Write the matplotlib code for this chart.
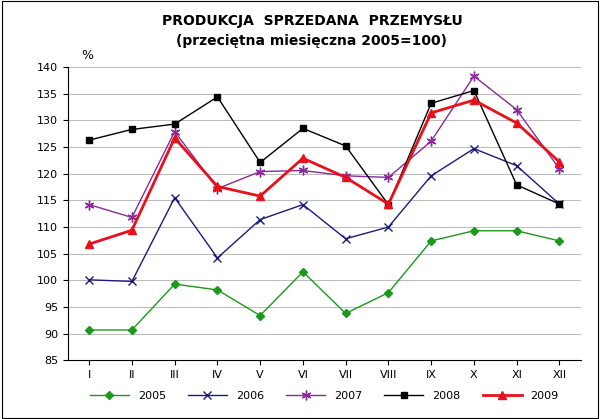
import matplotlib.pyplot as plt
import matplotlib.patches as mpatches

months = ['I', 'II', 'III', 'IV', 'V', 'VI', 'VII', 'VIII', 'IX', 'X', 'XI', 'XII']
s2005 = [90.7, 90.7, 99.3, 98.2, 93.4, 101.6, 93.8, 97.7, 107.4, 109.3, 109.3, 107.4]
s2006 = [100.1, 99.8, 115.5, 104.2, 111.4, 114.2, 107.8, 110.0, 119.6, 124.7, 121.5, 114.3]
s2007 = [114.2, 111.8, 127.9, 117.2, 120.4, 120.6, 119.6, 119.3, 126.1, 138.3, 132.0, 120.9]
s2008 = [126.3, 128.3, 129.3, 134.4, 122.1, 128.5, 125.2, 114.2, 133.2, 135.6, 117.9, 114.3]
s2009 = [106.8, 109.4, 126.7, 117.6, 115.8, 122.9, 119.3, 114.3, 131.4, 133.8, 129.5, 122.2]

fig = plt.figure(figsize=(6, 4.19), dpi=100)
ax = fig.add_axes([0.113, 0.14, 0.855, 0.70])
x = range(len(months))

ax.plot(x, s2005, color='#1a9a1a', marker='D', markersize=4, lw=1, label='2005')
ax.plot(x, s2006, color='#1a1a80', marker='x', markersize=6, lw=1, label='2006')
ax.plot(x, s2007, color='#8a2a9a', marker=(6, 2, 0), markersize=7, lw=1, label='2007')
ax.plot(x, s2008, color='black', marker='s', markersize=4, lw=1, label='2008')
ax.plot(x, s2009, color='#e8101a', marker='^', markersize=6, lw=2, label='2009')

ax.set_xlim(-0.5, 11.5)
ax.set_ylim(85, 140)
ax.set_yticks(range(85, 141, 5))
ax.set_xticks(list(x))
ax.set_xticklabels(months)
ax.tick_params(labelsize=8)
ax.grid(axis='y', color='#b0b0b0', lw=0.6)
ax.set_axisbelow(True)
for s in ['top', 'right']:
    ax.spines[s].set_visible(False)

fig.text(0.135, 0.86, '%', fontsize=9)
fig.text(0.52, 0.94, 'PRODUKCJA  SPRZEDANA  PRZEMYSŁU', ha='center', fontsize=10, fontweight='bold')
fig.text(0.52, 0.892, '(przeciętna miesięczna 2005=100)', ha='center', fontsize=10, fontweight='bold')

ax.legend(loc='upper center', bbox_to_anchor=(0.5, -0.07), ncol=5, frameon=False, fontsize=8, handlelength=3.5)
fig.patches.append(mpatches.Rectangle((0.003, 0.003), 0.994, 0.994, transform=fig.transFigure,
                                      fill=False, edgecolor='black', lw=0.8))
fig.savefig('out.png', dpi=100)
